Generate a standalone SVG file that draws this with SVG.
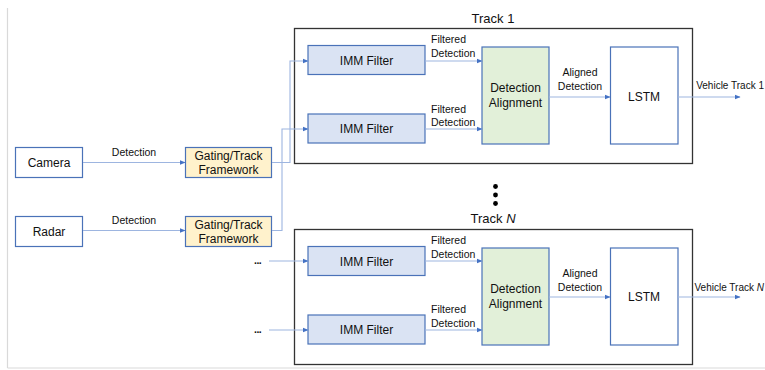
<svg xmlns="http://www.w3.org/2000/svg" width="765" height="370" viewBox="0 0 765 370">
  <style>
    text { font-family: "Liberation Sans", Arial, sans-serif; fill: #111; }
    .box { stroke: #4A72B8; stroke-width: 1.2; }
    .src { fill: #ffffff; }
    .gate { fill: #FFF2CC; }
    .imm { fill: #DAE3F3; }
    .align { fill: #E2F0D9; }
    .lstm { fill: #ffffff; }
    .track { fill: none; stroke: #333333; stroke-width: 1.3; }
    .lbl { font-size: 12px; text-anchor: middle; }
    .edge { font-size: 10.5px; }
    .mid { text-anchor: middle; }
    .out { font-size: 10px; text-anchor: end; }
    .title { font-size: 13px; text-anchor: middle; }
    .conn { fill: none; stroke: #9DB5E0; stroke-width: 1.1; marker-end: url(#arrow); }
    .frame { stroke: #D9D9D9; stroke-width: 1.2; }
  </style>
  <defs>
    <marker id="arrow" viewBox="0 0 10 10" refX="9" refY="5" markerWidth="6" markerHeight="6" markerUnits="userSpaceOnUse" orient="auto">
      <path d="M0,1 L10,5 L0,9 z" fill="#4472C4"/>
    </marker>
  </defs>

  <rect width="765" height="370" fill="#ffffff"/>
  <!-- page frame -->
  <line class="frame" x1="7.5" y1="8" x2="7.5" y2="368"/>
  <line class="frame" x1="7.5" y1="368" x2="765" y2="368" stroke="#C8C8C8"/>

  <!-- track containers -->
  <g id="track-1">
    <rect class="track" x="294.5" y="28.5" width="398" height="135"/>
    <text class="title" x="493" y="23">Track 1</text>
  </g>
  <g id="track-n">
    <rect class="track" x="294.5" y="229.5" width="398" height="135"/>
    <text class="title" x="493" y="223">Track <tspan font-style="italic">N</tspan></text>
  </g>
  <g id="more-tracks">
    <circle cx="495.5" cy="186.5" r="2.4" fill="#000"/>
    <circle cx="495.5" cy="195" r="2.4" fill="#000"/>
    <circle cx="495.5" cy="203.5" r="2.4" fill="#000"/>
  </g>

  <!-- sensors -->
  <g id="camera">
    <rect class="box src" x="15.5" y="147.5" width="67" height="30"/>
    <text class="lbl" x="49" y="166.5">Camera</text>
  </g>
  <g id="radar">
    <rect class="box src" x="15.5" y="216.5" width="67" height="30"/>
    <text class="lbl" x="49" y="235.5">Radar</text>
  </g>

  <!-- gating -->
  <g id="gating-1">
    <rect class="box gate" x="185.5" y="147.5" width="86" height="30"/>
    <text class="lbl" x="228.5" y="160">Gating/Track</text>
    <text class="lbl" x="228.5" y="174">Framework</text>
  </g>
  <g id="gating-2">
    <rect class="box gate" x="185.5" y="216.5" width="86" height="30"/>
    <text class="lbl" x="228.5" y="229">Gating/Track</text>
    <text class="lbl" x="228.5" y="243">Framework</text>
  </g>

  <!-- track 1 stages -->
  <g id="imm-1a">
    <rect class="box imm" x="308" y="45.5" width="117" height="29"/>
    <text class="lbl" x="366.5" y="64.5">IMM Filter</text>
  </g>
  <g id="imm-1b">
    <rect class="box imm" x="308" y="114" width="117" height="29"/>
    <text class="lbl" x="366.5" y="133">IMM Filter</text>
  </g>
  <g id="align-1">
    <rect class="box align" x="482" y="47" width="67" height="97"/>
    <text class="lbl" x="515.5" y="92">Detection</text>
    <text class="lbl" x="515.5" y="107">Alignment</text>
  </g>
  <g id="lstm-1">
    <rect class="box lstm" x="610.5" y="47" width="67.5" height="97"/>
    <text class="lbl" x="644" y="101">LSTM</text>
  </g>

  <!-- track N stages -->
  <g id="imm-na">
    <rect class="box imm" x="308" y="246.5" width="117" height="29"/>
    <text class="lbl" x="366.5" y="265.5">IMM Filter</text>
  </g>
  <g id="imm-nb">
    <rect class="box imm" x="308" y="315" width="117" height="29"/>
    <text class="lbl" x="366.5" y="334">IMM Filter</text>
  </g>
  <g id="align-n">
    <rect class="box align" x="482" y="248" width="67" height="97"/>
    <text class="lbl" x="515.5" y="293">Detection</text>
    <text class="lbl" x="515.5" y="308">Alignment</text>
  </g>
  <g id="lstm-n">
    <rect class="box lstm" x="610.5" y="248" width="67.5" height="97"/>
    <text class="lbl" x="644" y="301">LSTM</text>
  </g>

  <!-- connectors -->
  <g id="connectors">
    <path class="conn" d="M83,162.5 H185"/>
    <path class="conn" d="M83,230.5 H185"/>
    <path class="conn" d="M272,162.5 H290 V61 H308"/>
    <path class="conn" d="M272,230.5 H282 V129 H308"/>
    <path class="conn" d="M425,61 H482"/>
    <path class="conn" d="M425,129 H482"/>
    <path class="conn" d="M549,97 H610"/>
    <path class="conn" d="M678,97 H740"/>
    <path class="conn" d="M269,261 H308"/>
    <path class="conn" d="M269,330 H308"/>
    <path class="conn" d="M425,261 H482"/>
    <path class="conn" d="M425,330 H482"/>
    <path class="conn" d="M549,297 H610"/>
    <path class="conn" d="M678,297 H740"/>
  </g>

  <!-- connector labels -->
  <g id="edge-labels">
    <text class="edge mid" x="134" y="156">Detection</text>
    <text class="edge mid" x="134" y="224">Detection</text>
    <text class="edge" x="431" y="43">Filtered</text>
    <text class="edge" x="431" y="56.5">Detection</text>
    <text class="edge" x="431" y="112.5">Filtered</text>
    <text class="edge" x="431" y="126">Detection</text>
    <text class="edge mid" x="580" y="76">Aligned</text>
    <text class="edge mid" x="580" y="89.5">Detection</text>
    <text class="out" x="764" y="88.5">Vehicle Track 1</text>
    <text class="edge" x="431" y="244">Filtered</text>
    <text class="edge" x="431" y="257.5">Detection</text>
    <text class="edge" x="431" y="312.5">Filtered</text>
    <text class="edge" x="431" y="326.5">Detection</text>
    <text class="edge mid" x="580" y="277">Aligned</text>
    <text class="edge mid" x="580" y="290.5">Detection</text>
    <text class="out" x="764" y="290.5">Vehicle Track <tspan font-style="italic">N</tspan></text>
    <text class="edge" x="254" y="264" font-weight="bold" letter-spacing="-0.5">...</text>
    <text class="edge" x="254" y="333" font-weight="bold" letter-spacing="-0.5">...</text>
  </g>
</svg>
